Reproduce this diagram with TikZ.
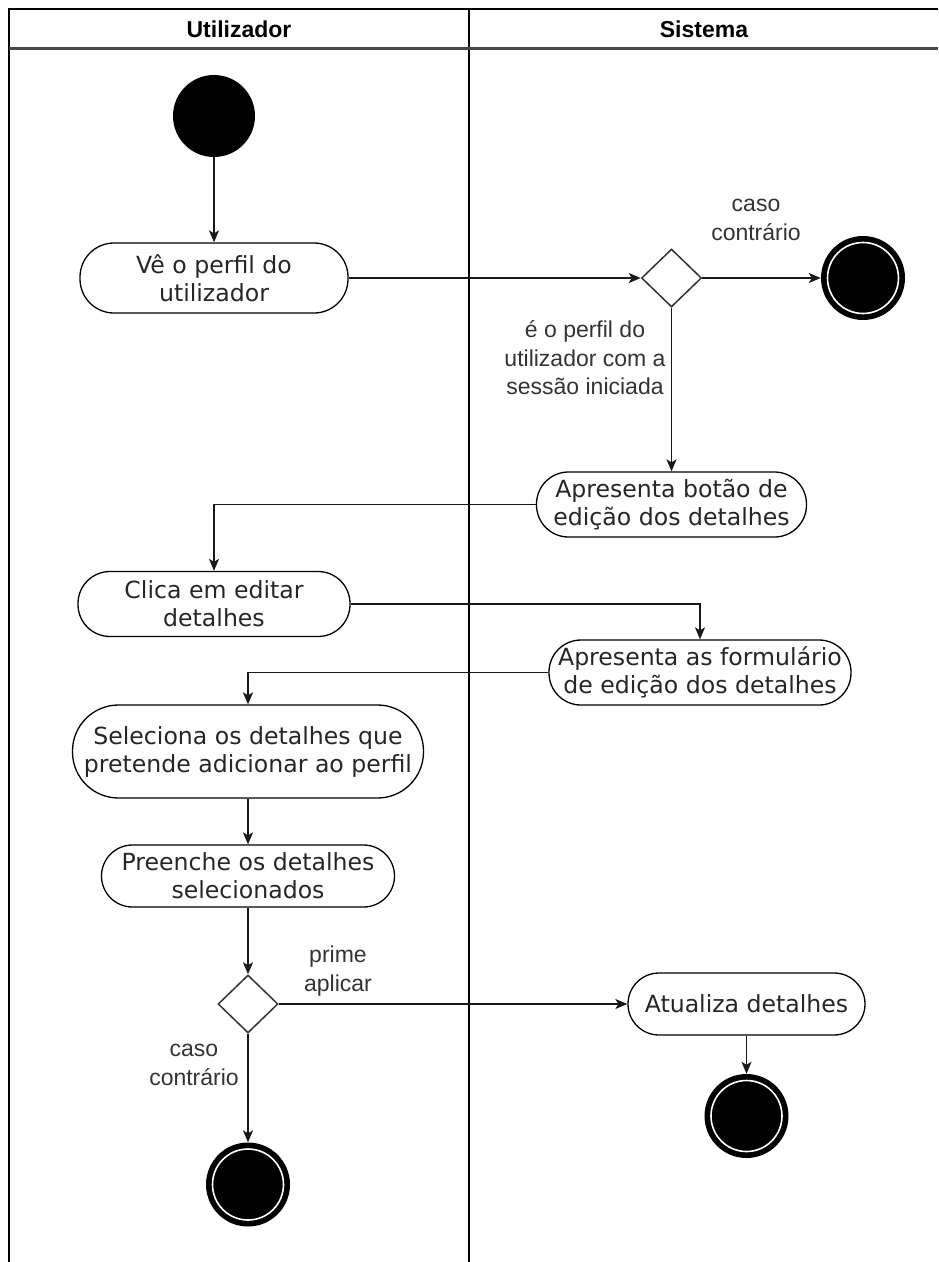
\documentclass[tikz,border=0pt]{standalone}
\usepackage{fontspec}
\newfontfamily\actfont{DejaVu Sans}
\newfontfamily\lblfont{Liberation Sans}
\usetikzlibrary{arrows.meta,shapes.geometric}

\tikzset{
  lane/.style={line width=2pt, draw=black},
  headsep/.style={line width=3pt, draw=black!72},
  headtext/.style={font=\lblfont\bfseries\fontsize{23}{28}\selectfont},
  action/.style={draw=black, line width=1.3pt, fill=white, inner sep=0pt,
    align=center, font=\actfont\fontsize{23.6}{28}\selectfont, text=black!85},
  decision/.style={diamond, draw=black!80, line width=1.5pt, fill=white,
    inner sep=0pt, minimum width=60, minimum height=58},
  startnode/.style={circle, fill=black, inner sep=0pt, minimum size=82},
  endnode/.style={circle, fill=black, inner sep=0pt, minimum size=84,
    path picture={\draw[white, line width=1.6pt]
      (path picture bounding box.center) circle[radius=35.5pt];}},
  guard/.style={align=center, font=\lblfont\fontsize{23}{28.5}\selectfont, text=black!80},
  flow/.style={draw=black!90, line width=1.5pt,
    -{Stealth[length=12pt, width=10pt, inset=3pt]}},
}

\begin{document}
\begin{tikzpicture}[x=1pt, y=-1pt]
\useasboundingbox (0,0) rectangle (938,1262);

% swimlanes
\draw[lane] (9,1262) -- (9,9) -- (938,9);
\draw[lane] (469,9) -- (469,1262);
\draw[headsep] (9,48) -- (938,48);
\node[headtext] (hU) at (239,29) {Utilizador};
\node[headtext] (hS) at (704,29) {Sistema};

% activities
\node[startnode] (start) at (214,116) {};
\node[action, minimum width=268, minimum height=70, rounded corners=34pt]
  (a1) at (214,278) {Vê o perfil do\\utilizador};
\node[decision] (d1) at (671.5,278) {};
\node[endnode] (end1) at (863,278) {};
\node[action, minimum width=270, minimum height=65, rounded corners=32pt]
  (a2) at (671.5,504.5) {Apresenta botão de\\edição dos detalhes};
\node[action, minimum width=272, minimum height=65, rounded corners=32pt]
  (a3) at (214,604) {Clica em editar\\detalhes};
\node[action, minimum width=302, minimum height=65, rounded corners=32pt]
  (a4) at (700,672.5) {Apresenta as formulário\\de edição dos detalhes};
\node[action, minimum width=351, minimum height=93, rounded corners=46pt]
  (a5) at (248,751.5) {Seleciona os detalhes que\\pretende adicionar ao perfil};
\node[action, minimum width=293, minimum height=62, rounded corners=31pt]
  (a6) at (248,876) {Preenche os detalhes\\selecionados};
\node[decision] (d2) at (248,1004) {};
\node[action, minimum width=237, minimum height=62, rounded corners=31pt]
  (a7) at (746.5,1004) {Atualiza detalhes};
\node[endnode] (end2) at (746.5,1116) {};
\node[endnode] (end3) at (248,1184.5) {};

% guard labels
\node[guard] (g1) at (756,220) {caso\\contrário};
\node[guard] (g2) at (585,358) {é o perfil do\\utilizador com a\\sessão iniciada};
\node[guard] (g3) at (338,971) {prime\\aplicar};
\node[guard] (g4) at (194,1065) {caso\\contrário};

% control flow
\draw[flow] (start.south) -- (start.south |- a1.north);
\draw[flow] (a1.east) -- (d1.west);
\draw[flow] (d1.east) -- (end1.west);
\draw[flow] (d1.south) -- (a2.north);
\draw[flow] (a2.west) -| (a3.north);
\draw[flow] (a3.east) -| (a4.north);
\draw[flow] (a4.west) -| (a5.north);
\draw[flow] (a5.south) -- (a6.north);
\draw[flow] (a6.south) -- (d2.north);
\draw[flow] (d2.east) -- (a7.west);
\draw[flow] (d2.south) -- (end3.north);
\draw[flow] (a7.south) -- (end2.north);
\end{tikzpicture}
\end{document}
